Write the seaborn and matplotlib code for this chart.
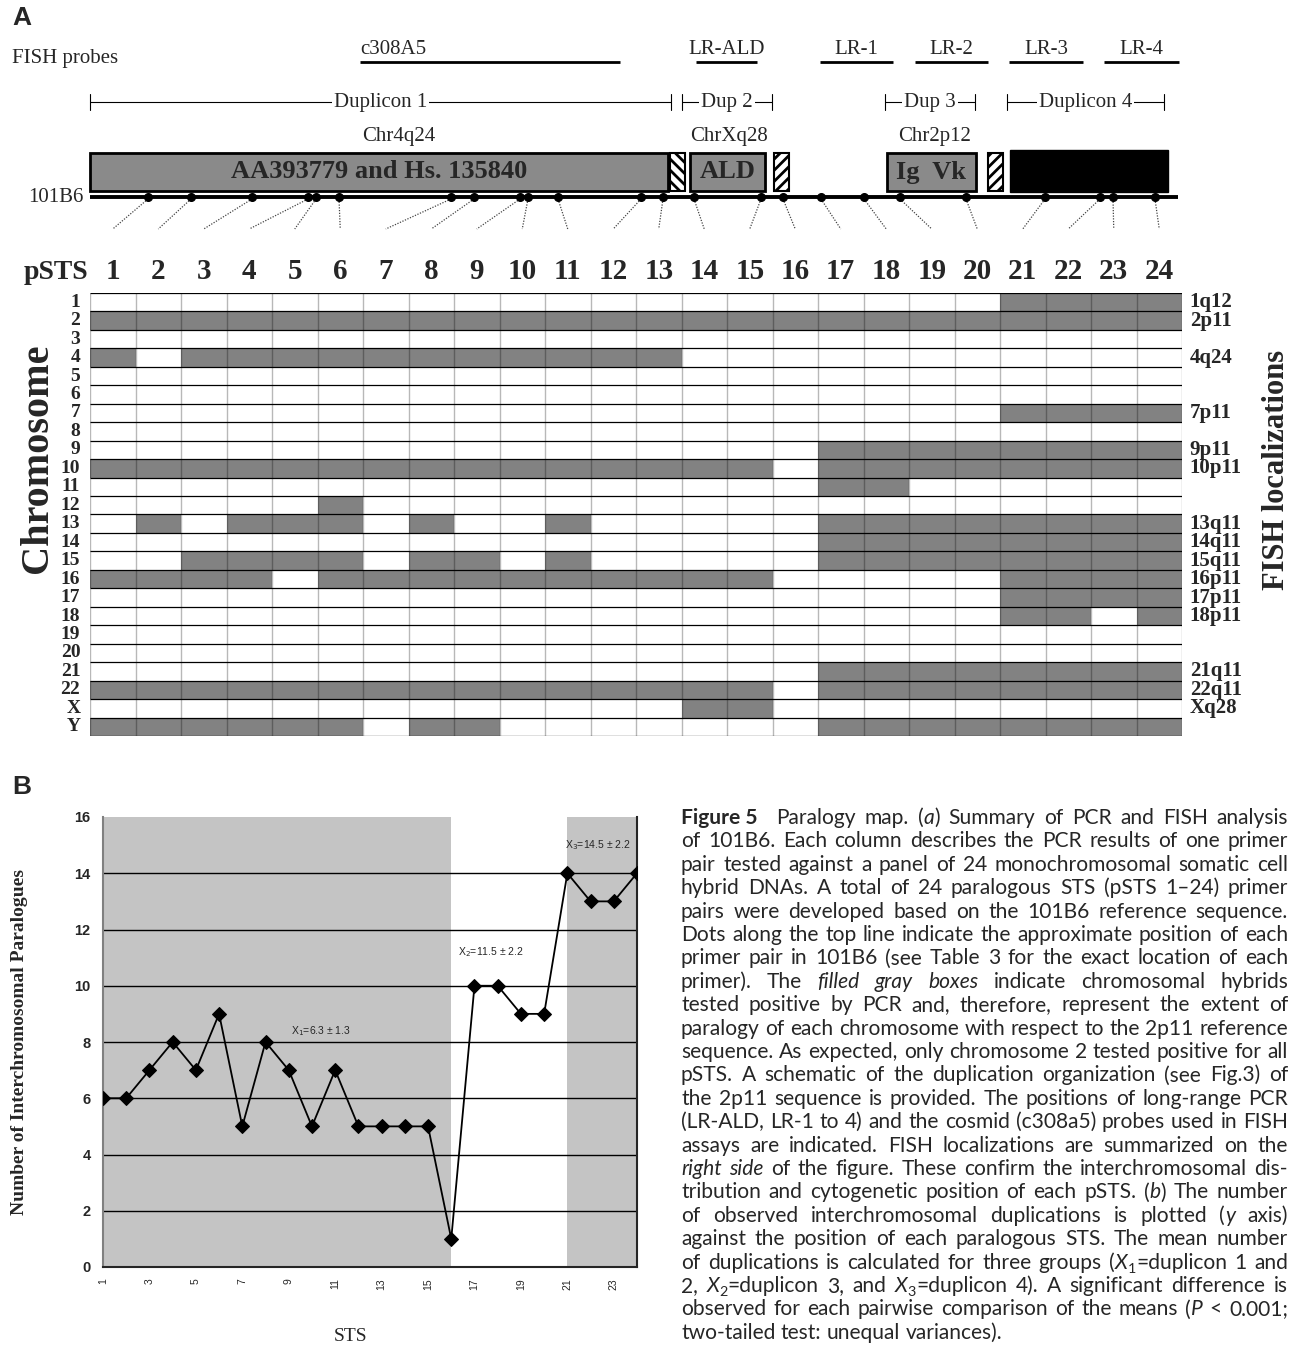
import numpy as np
import pandas as pd
import matplotlib
matplotlib.use('Agg')
import matplotlib.pyplot as plt
from matplotlib.colors import ListedColormap
from matplotlib.patches import Rectangle
import seaborn as sns

sns.set_style('white')
plt.rcParams['hatch.linewidth'] = 2.0

SERIF = ['Liberation Serif', 'DejaVu Serif']
SANS = ['Liberation Sans', 'DejaVu Sans']
CAPF = ['Lato', 'DejaVu Sans']

# ---------------- data ----------------
# panel A : PCR results, one string per chromosome hybrid, one char per pSTS 1..24
chrom = [str(i) for i in range(1, 23)] + ['X', 'Y']
pcr_rows = [
    "000000000000000000001111",  # 1
    "111111111111111111111111",  # 2
    "000000000000000000000000",  # 3
    "101111111111100000000000",  # 4
    "000000000000000000000000",  # 5
    "000000000000000000000000",  # 6
    "000000000000000000001111",  # 7
    "000000000000000000000000",  # 8
    "000000000000000011111111",  # 9
    "111111111111111011111111",  # 10
    "000000000000000011000000",  # 11
    "000001000000000000000000",  # 12
    "010111010010000011111111",  # 13
    "000000000000000011111111",  # 14
    "001111011010000011111111",  # 15
    "111101111111111000001111",  # 16
    "000000000000000000001111",  # 17
    "000000000000000000001101",  # 18
    "000000000000000000000000",  # 19
    "000000000000000000000000",  # 20
    "000000000000000011111111",  # 21
    "111111111111111011111111",  # 22
    "000000000000011000000000",  # X
    "111111011000000011111111",  # Y
]
fish_rows = ['1', '2', '4', '7', '9', '10', '13', '14', '15', '16', '17', '18', '21', '22', 'X']
fish_labels = ['1q12', '2p11', '4q24', '7p11', '9p11', '10p11', '13q11', '14q11', '15q11',
               '16p11', '17p11', '18p11', '21q11', '22q11', 'Xq28']

# schematic of 101B6 (positions along the sequence line)
pSTS = list(range(1, 25))
dot_pos = [148, 191, 252, 308, 316, 339, 451, 474, 520, 528, 558, 641,
           663, 694, 761, 783, 821, 864, 900, 966, 1045, 1100, 1113, 1155]
seq_start, seq_end = 90, 1178

feat_label = ['AA393779 and Hs. 135840', '', 'ALD', '', 'Ig  Vk', '', '']
feat_start = [90, 670, 690, 774, 887, 988, 1010]
feat_end = [668, 685, 765, 789, 976, 1003, 1168]
feat_kind = ['gray', 'hatchb', 'gray', 'hatchf', 'gray', 'hatchf', 'black']

chr_names = ['Chr4q24', 'ChrXq28', 'Chr2p12']
chr_x = [399, 729, 935]

dup_names = ['Duplicon 1', 'Dup 2', 'Dup 3', 'Duplicon 4']
dup_start = [90, 682, 885, 1007]
dup_end = [671, 772, 975, 1164]

probe_names = ['c308A5', 'LR-ALD', 'LR-1', 'LR-2', 'LR-3', 'LR-4']
probe_start = [360, 696, 820, 915, 1009, 1104]
probe_end = [620, 757, 893, 988, 1083, 1179]

# panel B
n_paralogues = [6, 6, 7, 8, 7, 9, 5, 8, 7, 5, 7, 5, 5, 5, 5, 1, 10, 10, 9, 9, 14, 13, 13, 14]
shade_start = [1, 21]
shade_end = [16, 24]
group_text = ['X$_1$=6.3 ± 1.3', 'X$_2$=11.5 ± 2.2', 'X$_3$=14.5 ± 2.2']
group_x = [10.4, 17.7, 22.3]
group_y = [8.4, 11.2, 15.0]

caption_lines = [
    "#Figure\u00a05\u00a0\u00a0# Paralogy map. (_a_) Summary of PCR and FISH analysis",
    "of 101B6. Each column describes the PCR results of one primer",
    "pair tested against a panel of 24 monochromosomal somatic cell",
    "hybrid DNAs. A total of 24 paralogous STS (pSTS 1\u201324) primer",
    "pairs were developed based on the 101B6 reference sequence.",
    "Dots along the top line indicate the approximate position of each",
    "primer pair in 101B6 (see Table 3 for the exact location of each",
    "primer). The _filled gray boxes_ indicate chromosomal hybrids",
    "tested positive by PCR and, therefore, represent the extent of",
    "paralogy of each chromosome with respect to the 2p11 reference",
    "sequence. As expected, only chromosome 2 tested positive for all",
    "pSTS. A schematic of the duplication organization (see Fig.3) of",
    "the 2p11 sequence is provided. The positions of long-range PCR",
    "(LR-ALD, LR-1 to 4) and the cosmid (c308a5) probes used in FISH",
    "assays are indicated. FISH localizations are summarized on the",
    "_right side_ of the figure. These confirm the interchromosomal dis-",
    "tribution and cytogenetic position of each pSTS. (_b_) The number",
    "of observed interchromosomal duplications is plotted (_y_ axis)",
    "against the position of each paralogous STS. The mean number",
    "of duplications is calculated for three groups (_X_~1~=duplicon 1 and",
    "2, _X_~2~=duplicon 3, and _X_~3~=duplicon 4). A significant difference is",
    "observed for each pairwise comparison of the means (_P_ < 0.001;",
    "two-tailed test: unequal variances).",
]

# ---------------- figure ----------------
W, H = 1296, 1346
fig = plt.figure(figsize=(W / 100, H / 100), dpi=100)


def fig_rect(x0, y0, x1, y1):
    return [x0 / W, 1 - y1 / H, (x1 - x0) / W, (y1 - y0) / H]


# --- panel A grid ---
GRID_L, GRID_T, GRID_R, GRID_B = 90, 293, 1182, 736
axg = fig.add_axes(fig_rect(GRID_L, GRID_T, GRID_R, GRID_B))
mat = pd.DataFrame([[int(c) for c in row] for row in pcr_rows], index=chrom, columns=pSTS)
sns.heatmap(mat, ax=axg, cmap=ListedColormap(['white', '#828282']), cbar=False,
            linewidths=0, xticklabels=False, yticklabels=True)
axg.hlines(np.arange(len(chrom) + 1), 0, len(pSTS), color='black', lw=0.9)
axg.vlines(np.arange(len(pSTS) + 1), 0, len(chrom), color='black', alpha=0.28, lw=1.0)
axg.tick_params(axis='y', length=0, pad=7)
for lab in axg.get_yticklabels():
    lab.set_fontfamily(SERIF)
    lab.set_fontweight('bold')
    lab.set_fontsize(14)
    lab.set_rotation(0)
    lab.set_va('center')
trans = axg.get_yaxis_transform()
for r, lab in zip(fish_rows, fish_labels):
    axg.text(1.007, chrom.index(r) + 0.5, lab, transform=trans, ha='left', va='center',
             family=SERIF, fontweight='bold', fontsize=15)

# --- panel B ---
axb = fig.add_axes(fig_rect(103, 817, 637, 1267))
for s, e in zip(shade_start, shade_end):
    axb.axvspan(s, e, color='#c4c4c4', lw=0, zorder=0)
for yv in range(2, 16, 2):
    axb.axhline(yv, color='black', lw=1.0, zorder=1)
sns.lineplot(x=pSTS, y=n_paralogues, ax=axb, color='black', lw=1.3, marker='D',
             markersize=7, markeredgecolor='black', zorder=3)
for txt, gx, gy in zip(group_text, group_x, group_y):
    axb.text(gx, gy, txt, ha='center', va='center', fontsize=7.5, family=SANS)
axb.set_xlim(1, 24)
axb.set_ylim(0, 16)
axb.set_xticks(pSTS)
axb.set_xticklabels([str(i) if i % 2 else '' for i in pSTS], rotation=90, fontsize=7.5, family=SANS)
axb.set_yticks(range(0, 17, 2))
axb.set_yticklabels([str(v) for v in range(0, 17, 2)], fontsize=10.5, family=SANS, fontweight='bold')
axb.tick_params(axis='x', direction='inout', length=8, width=1, pad=4)
axb.tick_params(axis='y', direction='out', length=3, width=1, pad=6)
axb.spines['top'].set_visible(False)
axb.spines['left'].set_color('#808080')
for sp in ['left', 'right', 'bottom']:
    axb.spines[sp].set_linewidth(1.5)
axb.set_xlabel('STS', family=SERIF, fontsize=14)
axb.xaxis.set_label_coords(0.463, -0.135)
axb.set_ylabel('Number of Interchromosomal Paralogues', family=SERIF, fontsize=14, fontweight='bold')
axb.yaxis.set_label_coords(-0.14, 0.5)

# --- overlay in pixel units: schematic, titles, caption ---
ov = fig.add_axes([0, 0, 1, 1])
ov.set_xlim(0, W)
ov.set_ylim(H, 0)
ov.axis('off')

ov.text(12, 18, 'A', family=SANS, fontweight='bold', fontsize=19, va='center', ha='left')
ov.text(12, 787, 'B', family=SANS, fontweight='bold', fontsize=19, va='center', ha='left')

# FISH probes
ov.text(12, 58, 'FISH probes', family=SERIF, fontsize=15, va='center', ha='left')
for i, (nm, s, e) in enumerate(zip(probe_names, probe_start, probe_end)):
    ov.plot([s, e], [62, 62], color='black', lw=2.0, solid_capstyle='butt')
    if i == 0:
        ov.text(s, 50, nm, family=SERIF, fontsize=15, ha='left', va='center')
    else:
        ov.text((s + e) / 2, 50, nm, family=SERIF, fontsize=15, ha='center', va='center')

# duplicon brackets
for nm, s, e in zip(dup_names, dup_start, dup_end):
    ov.plot([s, e], [102, 102], color='black', lw=0.8)
    ov.plot([s, s], [94, 110], color='black', lw=0.8)
    ov.plot([e, e], [94, 110], color='black', lw=0.8)
    ov.text((s + e) / 2, 102, nm, family=SERIF, fontsize=15, ha='center', va='center',
            bbox=dict(facecolor='white', edgecolor='none', pad=1.5))

for nm, cx in zip(chr_names, chr_x):
    ov.text(cx, 136, nm, family=SERIF, fontsize=15, ha='center', va='center')

# features on 101B6
for lab, s, e, kind in zip(feat_label, feat_start, feat_end, feat_kind):
    if kind == 'gray':
        ov.add_patch(Rectangle((s, 153), e - s, 38, facecolor='#8a8a8a', edgecolor='black', lw=2))
        ov.text((s + e) / 2, 172, lab, family=SERIF, fontweight='bold', fontsize=19,
                ha='center', va='center')
    elif kind == 'black':
        ov.add_patch(Rectangle((s, 150), e - s, 42, facecolor='black', edgecolor='black', lw=1))
    else:
        hatch = '\\\\\\' if kind == 'hatchb' else '///'
        ov.add_patch(Rectangle((s, 153), e - s, 38, facecolor='white', edgecolor='black',
                               lw=1.5, hatch=hatch))

ov.plot([seq_start, seq_end], [197, 197], color='black', lw=2.8, solid_capstyle='butt')
ov.text(84, 198, '101B6', family=SERIF, fontsize=15, ha='right', va='center')
col_w = (GRID_R - GRID_L) / len(pSTS)
col_c = [GRID_L + col_w * (i + 0.5) for i in range(len(pSTS))]
for p, xd, xc in zip(pSTS, dot_pos, col_c):
    ov.plot([xd, xc], [199, 229], color='#444444', lw=0.9, ls=(0, (1, 1.2)))
    ov.text(xc, 279, str(p), family=SERIF, fontweight='bold', fontsize=21, ha='center',
            va='baseline')
ov.plot(dot_pos, [197] * len(dot_pos), 'o', color='black', markersize=5.5)
ov.text(24, 279, 'pSTS', family=SERIF, fontweight='bold', fontsize=20, ha='left', va='baseline')

ov.text(38, 458, 'Chromosome', family=SERIF, fontweight='bold', fontsize=29, rotation=90,
        ha='center', va='center')
ov.text(1276, 470, 'FISH localizations', family=SERIF, fontweight='bold', fontsize=22,
        rotation=90, ha='center', va='center')

# --- caption, justified ---
rend = fig.canvas.get_renderer()


def parse(line):
    words, runs = [], []
    st = {'b': False, 'i': False, 's': False}
    buf = ''
    for ch in line + ' ':
        if ch in '#_~':
            if buf:
                runs.append((buf, st['b'], st['i'], st['s']))
                buf = ''
            key = {'#': 'b', '_': 'i', '~': 's'}[ch]
            st[key] = not st[key]
        elif ch == ' ':
            if buf:
                runs.append((buf, st['b'], st['i'], st['s']))
                buf = ''
            if runs:
                words.append(runs)
                runs = []
        else:
            buf += ch
    return words


def make_run(x, y, run, fs):
    s, b, it, sub = run
    return ov.text(x, y + (4 if sub else 0), s, family=CAPF, fontsize=fs * (0.68 if sub else 1),
                   fontweight='bold' if b else 'normal', fontstyle='italic' if it else 'normal',
                   ha='left', va='baseline')


def run_w(run, fs):
    t = make_run(0, 0, run, fs)
    w = t.get_window_extent(renderer=rend).width
    t.remove()
    return w


CAP_L, CAP_R = 681, 1288
CAP_Y0, CAP_STEP = 824, 23.4
parsed = [parse(l) for l in caption_lines]

base = 12.0
sp0 = run_w(('x x', False, False, False), base) - run_w(('xx', False, False, False), base)
nat = []
for words in parsed[:-1]:
    ws = [sum(run_w(r, base) for r in w) for w in words]
    nat.append(sum(ws) + sp0 * (len(ws) - 1))
cap_fs = base * (CAP_R - CAP_L) / max(nat) * 0.995

sp = run_w(('x x', False, False, False), cap_fs) - run_w(('xx', False, False, False), cap_fs)
for li, words in enumerate(parsed):
    y = CAP_Y0 + li * CAP_STEP
    widths = [[run_w(r, cap_fs) for r in w] for w in words]
    tot = sum(sum(w) for w in widths)
    if li < len(parsed) - 1 and len(words) > 1:
        gap = (CAP_R - CAP_L - tot) / (len(words) - 1)
    else:
        gap = sp
    x = CAP_L
    for w, ww in zip(words, widths):
        for r, rw in zip(w, ww):
            make_run(x, y, r, cap_fs)
            x += rw
        x += gap

fig.savefig('out.png', dpi=100)
